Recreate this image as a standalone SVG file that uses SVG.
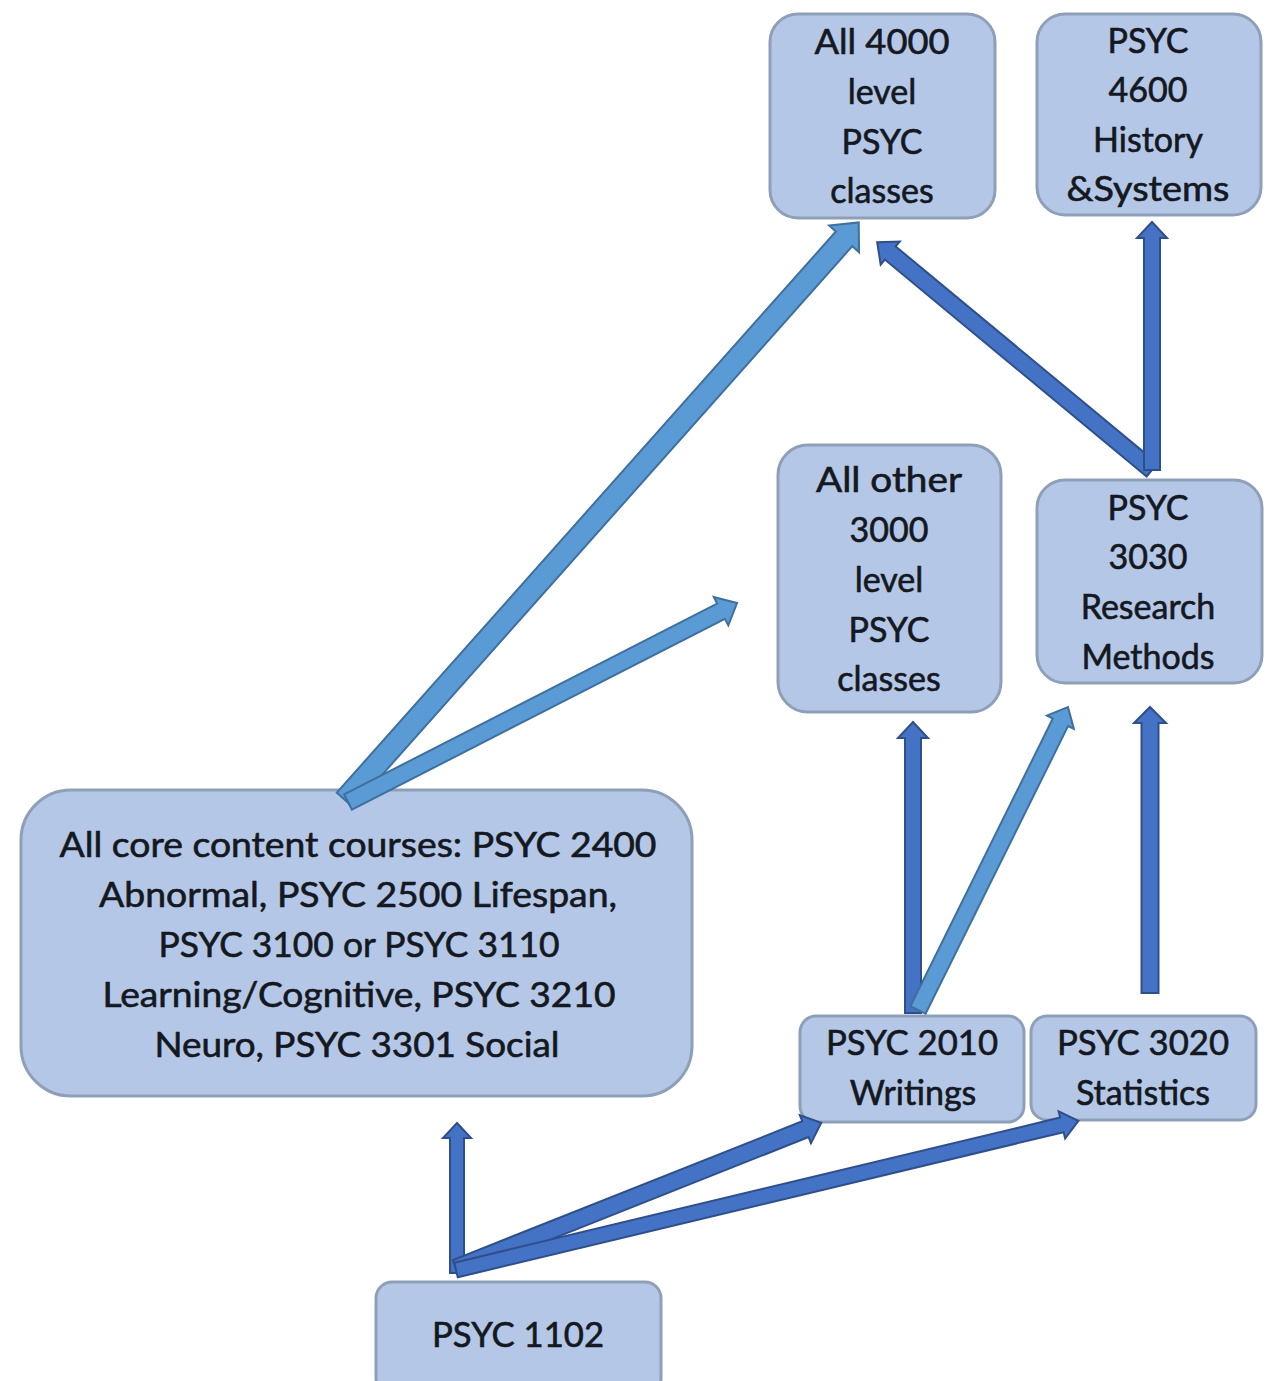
<svg xmlns="http://www.w3.org/2000/svg" width="1271" height="1381" viewBox="0 0 1271 1381">
<style>
.box{fill:#b4c7e7;stroke:#8e9fb8;stroke-width:3}
.t{font-family:Lato,"Open Sans","Liberation Sans",sans-serif;font-size:34px;fill:#141820;stroke:#141820;stroke-width:0.6;text-anchor:middle}
.lt{fill:#5b9bd5;stroke:#3f6f9e;stroke-width:2;stroke-linejoin:miter}
.dk{fill:#4472c4;stroke:#2f4f8a;stroke-width:2;stroke-linejoin:miter}
</style>
<rect width="1271" height="1381" fill="#ffffff"/>
<g id="n4000">
<rect class="box" x="770" y="14" width="225" height="204" rx="28"/>
<text class="t" x="882" y="54" textLength="135" lengthAdjust="spacingAndGlyphs">All 4000</text>
<text class="t" x="882" y="104">level</text>
<text class="t" x="882" y="154">PSYC</text>
<text class="t" x="882" y="203">classes</text>
</g>
<g id="n4600">
<rect class="box" x="1037" y="14" width="224" height="201" rx="28"/>
<text class="t" x="1148" y="53">PSYC</text>
<text class="t" x="1148" y="102">4600</text>
<text class="t" x="1148" y="152">History</text>
<text class="t" x="1148" y="201" textLength="163" lengthAdjust="spacingAndGlyphs">&amp;Systems</text>
</g>
<g id="n3000">
<rect class="box" x="778" y="445" width="223" height="267" rx="30"/>
<text class="t" x="889" y="492" textLength="146" lengthAdjust="spacingAndGlyphs">All other</text>
<text class="t" x="889" y="542">3000</text>
<text class="t" x="889" y="592">level</text>
<text class="t" x="889" y="642">PSYC</text>
<text class="t" x="889" y="691">classes</text>
</g>
<g id="n3030">
<rect class="box" x="1037" y="480" width="225" height="203" rx="28"/>
<text class="t" x="1148" y="520">PSYC</text>
<text class="t" x="1148" y="569">3030</text>
<text class="t" x="1148" y="619">Research</text>
<text class="t" x="1148" y="669">Methods</text>
</g>
<g id="ncore">
<rect class="box" x="21" y="790" width="671" height="306" rx="50"/>
<text class="t" x="358" y="857" textLength="597" lengthAdjust="spacingAndGlyphs">All core content courses: PSYC 2400</text>
<text class="t" x="358" y="907" textLength="518" lengthAdjust="spacingAndGlyphs">Abnormal, PSYC 2500 Lifespan,</text>
<text class="t" x="359" y="957" textLength="401" lengthAdjust="spacingAndGlyphs">PSYC 3100 or PSYC 3110</text>
<text class="t" x="359" y="1007" textLength="513" lengthAdjust="spacingAndGlyphs">Learning/Cognitive, PSYC 3210</text>
<text class="t" x="357" y="1057" textLength="405" lengthAdjust="spacingAndGlyphs">Neuro, PSYC 3301 Social</text>
</g>
<g id="n2010">
<rect class="box" x="800" y="1016" width="224" height="106" rx="16"/>
<text class="t" x="912" y="1055" textLength="172" lengthAdjust="spacingAndGlyphs">PSYC 2010</text>
<text class="t" x="913" y="1105">Writings</text>
</g>
<g id="n3020">
<rect class="box" x="1031" y="1016" width="225" height="104" rx="16"/>
<text class="t" x="1143" y="1055" textLength="172" lengthAdjust="spacingAndGlyphs">PSYC 3020</text>
<text class="t" x="1143" y="1105">Statistics</text>
</g>
<g id="n1102">
<rect class="box" x="376" y="1282" width="285" height="112" rx="16"/>
<text class="t" x="518" y="1347" textLength="172" lengthAdjust="spacingAndGlyphs">PSYC 1102</text>
</g>
<g id="connectors">
<polygon class="lt" transform="translate(345,800) rotate(-48.35)" points="0,-11 751,-11 751,-20 773,0 751,20 751,11 0,11"/>
<polygon class="lt" transform="translate(348,802) rotate(-27.09)" points="0,-8.5 419,-8.5 419,-16 437,0 419,16 419,8.5 0,8.5"/>
<polygon class="dk" transform="translate(1152,470) rotate(-140.34)" points="0,-8.5 340,-8.5 340,-15 357,0 340,15 340,8.5 0,8.5"/>
<polygon class="dk" transform="translate(1152,470) rotate(-90)" points="0,-8 232,-8 232,-15 248,0 232,15 232,8 0,8"/>
<polygon class="dk" transform="translate(913,1013) rotate(-90)" points="0,-8 275,-8 275,-15 291,0 275,15 275,8 0,8"/>
<polygon class="lt" transform="translate(918,1010) rotate(-63.66)" points="0,-8.5 321,-8.5 321,-15 338,0 321,15 321,8.5 0,8.5"/>
<polygon class="dk" transform="translate(1150,993) rotate(-90)" points="0,-8.5 270,-8.5 270,-16 286,0 270,16 270,8.5 0,8.5"/>
<polygon class="dk" transform="translate(457,1273) rotate(-90)" points="0,-7 135,-7 135,-14 150,0 135,14 135,7 0,7"/>
<polygon class="dk" transform="translate(456,1268) rotate(-21.67)" points="0,-8.5 376,-8.5 376,-15 393,0 376,15 376,8.5 0,8.5"/>
<polygon class="dk" transform="translate(456,1270) rotate(-13.47)" points="0,-7.5 623,-7.5 623,-14 640,0 623,14 623,7.5 0,7.5"/>
</g>
</svg>
